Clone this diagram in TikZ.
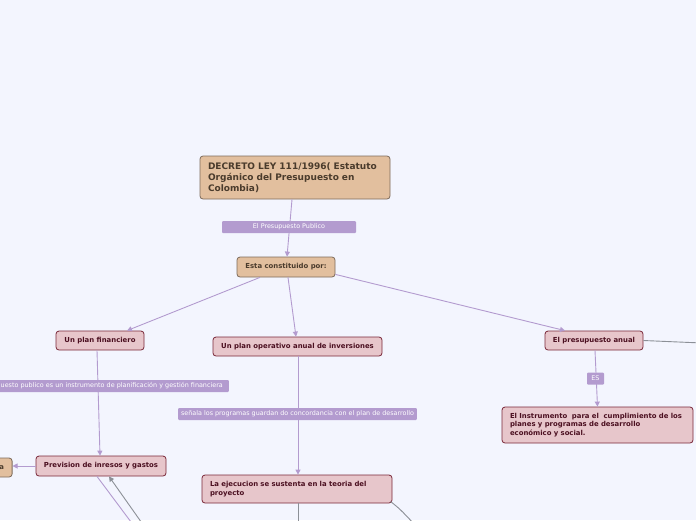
\documentclass[tikz,border=0pt]{standalone}
\usepackage{fontspec}
\setmainfont{DejaVu Sans}
\usetikzlibrary{arrows.meta}
\definecolor{bg}{HTML}{F3F5FE}
\definecolor{lav}{HTML}{B39BCF}
\definecolor{grayline}{HTML}{8C9097}
\definecolor{tanfill}{HTML}{E2BF9E}
\definecolor{tanborder}{HTML}{7D6B5B}
\definecolor{tantext}{HTML}{4A3B2C}
\definecolor{pinkfill}{HTML}{E7C6CB}
\definecolor{pinkborder}{HTML}{7A2839}
\definecolor{pinktext}{HTML}{4B0F20}
\tikzset{
 base/.style={draw, rounded corners=3pt, line width=0.8pt, inner sep=0pt, font=\fontsize{6.9}{8.5}\selectfont\bfseries},
 tanbox/.style={base, fill=tanfill, draw=tanborder, text=tantext},
 pinkbox/.style={base, fill=pinkfill, draw=pinkborder, text=pinktext},
 lbl/.style={fill=lav, text=white, rounded corners=1pt, inner xsep=3pt, inner ysep=0pt, minimum height=12pt, font=\fontsize{6.4}{7.5}\selectfont},
 pedge/.style={draw=lav, line width=0.9pt},
 gedge/.style={draw=grayline, line width=0.9pt},
 tip/.style={-{Triangle[length=5pt,width=5pt]}},
}
\begin{document}
\begin{tikzpicture}[x=1pt,y=-1pt]
\useasboundingbox (0,0) rectangle (696,520);
\fill[bg] (0,0) rectangle (696,520);
% nodes
\node[tanbox, text width=174pt, inner xsep=8pt, minimum height=43pt, align=left, font=\fontsize{9}{11}\selectfont\bfseries] (decreto) at (295,177.5) {DECRETO LEY 111/1996( Estatuto\\Orgánico del Presupuesto en\\Colombia)};
\node[tanbox, minimum width=98pt, minimum height=20pt] (esta) at (286,267) {Esta constituido por:};
\node[pinkbox, minimum width=88pt, minimum height=19pt] (fin) at (100,340.5) {Un plan financiero};
\node[pinkbox, minimum width=169pt, minimum height=19pt] (oper) at (297.5,346.5) {Un plan operativo anual de inversiones};
\node[pinkbox, minimum width=98pt, minimum height=19pt] (anual) at (594,340.5) {El presupuesto anual};
\node[pinkbox, text width=175pt, inner xsep=8pt, minimum height=36pt, align=left] (instr) at (597.5,425) {El Instrumento\ \ para el\ \ cumplimiento de los\\planes y programas de desarrollo\\económico y social.};
\node[pinkbox, minimum width=130pt, minimum height=20pt] (prev) at (101,466) {Prevision de inresos y gastos};
\node[pinkbox, text width=174pt, inner xsep=8pt, minimum height=28pt, align=left] (ejec) at (297,489) {La ejecucion se sustenta en la teoria del\\proyecto};
\node[tanbox, anchor=east, text width=20pt, inner xsep=8pt, minimum height=19pt, align=right] (left) at (12.5,467.5) {a};
% off-page ends
\coordinate (offA) at (134,526);
\coordinate (offB) at (144,526);
\coordinate (offC) at (298,528);
\coordinate (offD) at (416,526);
\coordinate (offE) at (702,343);
% edges
\draw[pedge,tip] ([xshift=-3pt]decreto.south) -- ([xshift=1pt]esta.north);
\draw[pedge,tip] ([xshift=-26pt]esta.south) -- ([xshift=27pt]fin.north);
\draw[pedge,tip] ([xshift=2pt]esta.south) -- ([xshift=-1.5pt]oper.north);
\draw[pedge,tip] ([yshift=3pt]esta.south east) -- ([xshift=-29pt]anual.north);
\draw[pedge,tip] ([xshift=-3pt]fin.south) -- ([xshift=-1pt]prev.north);
\draw[pedge,tip] ([xshift=0.5pt]oper.south) -- ([xshift=1pt]ejec.north);
\draw[pedge,tip] ([xshift=1pt]anual.south) -- (instr.north);
\draw[pedge,tip] (prev.west) -- (left.east |- prev.west);
\draw[pedge] ([xshift=-4pt]prev.south) -- (offA);
\draw[gedge,tip] (offB) -- ([xshift=8pt]prev.south);
\draw[gedge] ([xshift=1pt]ejec.south) -- (offC);
\draw[gedge] ([xshift=-2pt,yshift=2pt]ejec.south east) .. controls (400,509) .. (offD);
\draw[gedge] (anual.east) -- (offE);
% labels
\node[lbl, minimum width=134pt] (l1) at (289,227) {El Presupuesto Publico};
\node[lbl, anchor=east, text width=226pt, inner xsep=6pt, align=right] (l2) at (229,386) {uesto publico es un instrumento de planificación y gestión financiera};
\node[lbl] (l3) at (297.5,414) {señala los programas guardan do concordancia con el plan de desarrollo};
\node[lbl, minimum width=17pt] (l4) at (595.5,378.5) {ES};
\end{tikzpicture}
\end{document}
